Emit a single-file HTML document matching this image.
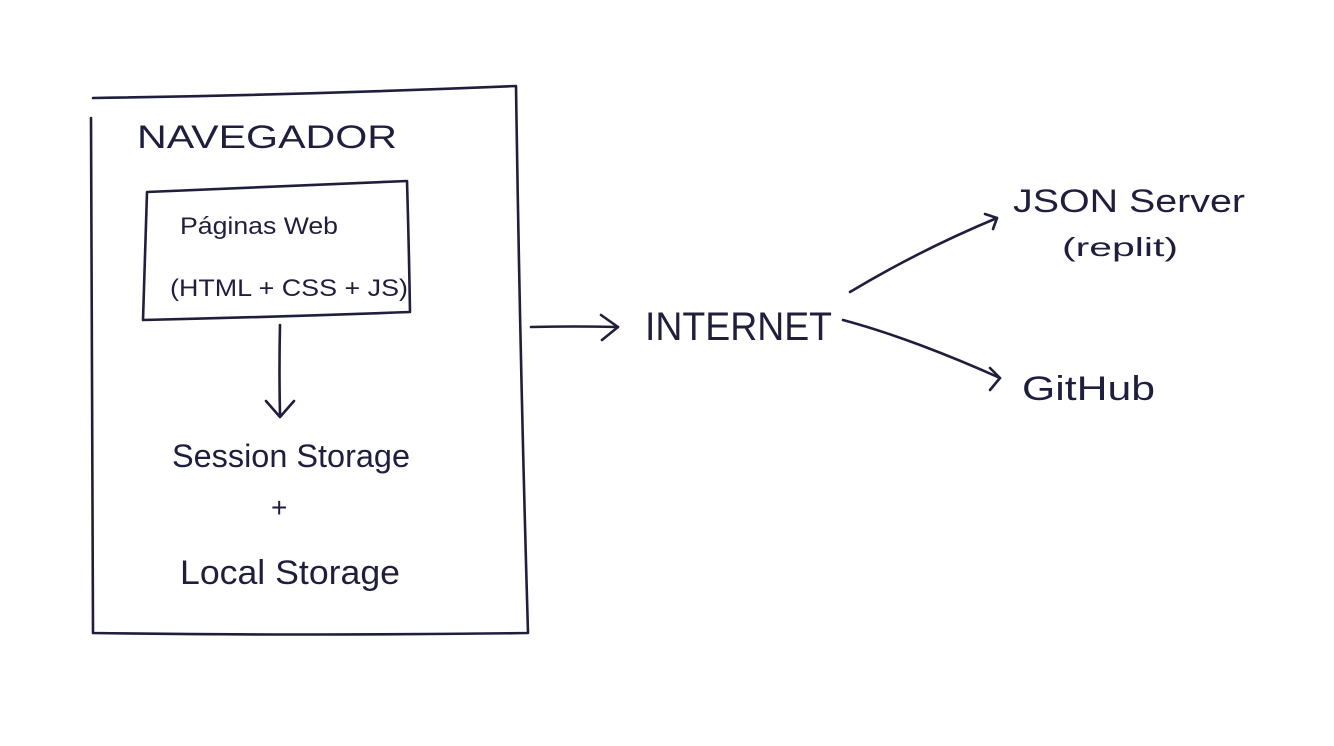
<!DOCTYPE html>
<html><head><meta charset="utf-8"><style>
html,body{margin:0;padding:0;background:#fff;}
svg{display:block}
text{font-family:"Liberation Sans",sans-serif;fill:#1f1f3d;}
</style></head><body>
<svg width="1334" height="746" viewBox="0 0 1334 746">
<g fill="none" stroke="#1f1f3d" stroke-width="2.6" stroke-linecap="round" stroke-linejoin="round">
<path d="M93 98 Q300 95 516 86 Q520 360 528 633 Q310 636 93 633 Q92 360 91 118"/>
<path d="M147 192 Q280 186 407 181 Q409 250 410 312 Q275 317 143 320 Q145 255 147 192"/>
<path d="M280 325 Q279 370 280 415"/>
<path d="M266 401 L280 417 L294 401"/>
<path d="M531 327 Q575 326 618 327"/>
<path d="M601 315 L618 327 L602 340"/>
<path d="M850 292 Q920 250 997 218"/>
<path d="M985 214 L997 218 L993 229"/>
<path d="M843 320 Q880 330 920 345 Q960 360 1000 378"/>
<path d="M990 368 L1000 378 L990 390"/>
</g>
<text x="137" y="148" font-size="32" textLength="260" lengthAdjust="spacingAndGlyphs">NAVEGADOR</text>
<text x="180" y="234" font-size="24" textLength="158" lengthAdjust="spacingAndGlyphs">Páginas Web</text>
<text x="170" y="296" font-size="24" textLength="238" lengthAdjust="spacingAndGlyphs">(HTML + CSS + JS)</text>
<text x="172" y="467" font-size="32" textLength="238" lengthAdjust="spacingAndGlyphs">Session Storage</text>
<text x="271" y="517" font-size="28">+</text>
<text x="180" y="584" font-size="34" textLength="220" lengthAdjust="spacingAndGlyphs">Local Storage</text>
<text x="645" y="340" font-size="40" textLength="187" lengthAdjust="spacingAndGlyphs">INTERNET</text>
<text x="1013" y="212" font-size="32" textLength="232" lengthAdjust="spacingAndGlyphs">JSON Server</text>
<text x="1062" y="256" font-size="26" textLength="116" lengthAdjust="spacingAndGlyphs">(replit)</text>
<text x="1022" y="400" font-size="34" textLength="133" lengthAdjust="spacingAndGlyphs">GitHub</text>
</svg>
</body></html>
